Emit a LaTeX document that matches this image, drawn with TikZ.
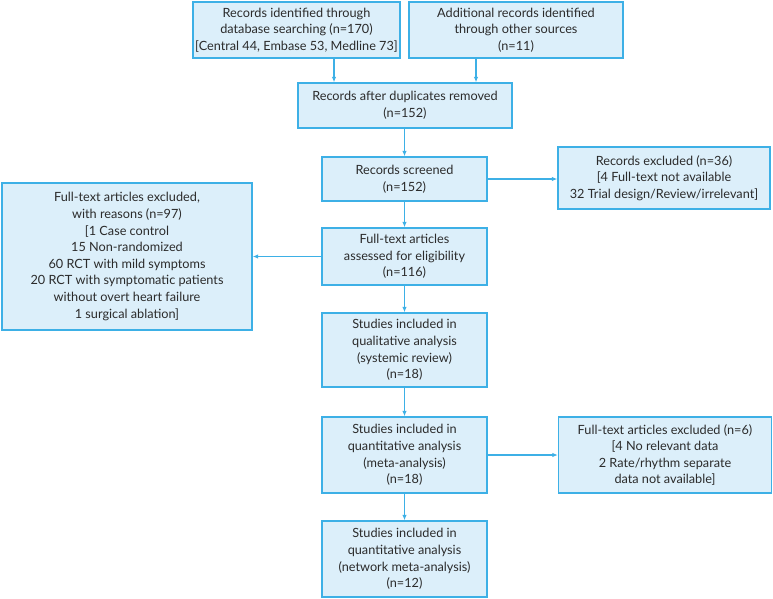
\documentclass[tikz,border=0pt]{standalone}
\usepackage{fontspec}
\setmainfont{Lato}
\usetikzlibrary{arrows.meta}
\definecolor{boxfill}{HTML}{DCEFFA}
\definecolor{boxline}{HTML}{3DB0E6}
\definecolor{txt}{HTML}{2B2B2B}
\begin{document}
\begin{tikzpicture}[x=1pt,y=-1pt,
  box/.style={draw=boxline,fill=boxfill,line width=1.3pt,align=center,inner sep=0pt,
    minimum width=#1,
    text=txt,font=\fontsize{12.7}{16.6}\selectfont},
  arr/.style={draw=boxline,line width=1.1pt,-{Latex[length=5.5pt,width=4.5pt]}}]
\useasboundingbox (0,0) rectangle (773,598);
\node[box=207pt,minimum height=56pt] (A) at (296.5,30) {Records identified through\\database searching (n=170)\\{[}Central 44, Embase 53, Medline 73]};
\node[box=214pt,minimum height=56pt] (B) at (516,30) {Additional records identified\\through other sources\\(n=11)};
\node[box=214pt,minimum height=45pt] (C) at (405,105.5) {Records after duplicates removed\\(n=152)};
\node[box=165pt,minimum height=44pt] (D) at (404.5,179) {Records screened\\(n=152)};
\node[box=212pt,minimum height=62pt] (E) at (664,178) {Records excluded (n=36)\\{[}4 Full-text not available\\32 Trial design/Review/irrelevant]};
\node[box=250pt,minimum height=147pt] (F) at (127,256.5) {Full-text articles excluded,\\with reasons (n=97)\\{[}1 Case control\\15 Non-randomized\\60 RCT with mild symptoms\\20 RCT with symptomatic patients\\without overt heart failure\\1 surgical ablation]};
\node[box=165pt,minimum height=57pt] (G) at (404.5,256.5) {Full-text articles\\assessed for eligibility\\(n=116)};
\node[box=165pt,minimum height=74pt] (H) at (404.5,350) {Studies included in\\qualitative analysis\\(systemic review)\\(n=18)};
\node[box=165pt,minimum height=76pt] (I) at (404.5,455) {Studies included in\\quantitative analysis\\(meta-analysis)\\(n=18)};
\node[box=213pt,minimum height=76pt] (J) at (665,455) {Full-text articles excluded (n=6)\\{[}4 No relevant data\\2 Rate/rhythm separate\\data not available]};
\node[box=165pt,minimum height=76pt] (K) at (404.5,559) {Studies included in\\quantitative analysis\\(network meta-analysis)\\(n=12)};
\draw[arr] ([xshift=37.5pt]A.south) -- ([xshift=-71pt]C.north);
\draw[arr] ([xshift=-40pt]B.south) -- ([xshift=71pt]C.north);
\draw[arr] (C.south -| D.north) -- (D.north);
\draw[arr] (D.east) -- (D.east -| E.west);
\draw[arr] (D.south) -- (G.north);
\draw[arr] (G.west) -- (G.west -| F.east);
\draw[arr] (G.south) -- (H.north);
\draw[arr] (H.south) -- (I.north);
\draw[arr] (I.east) -- (J.west);
\draw[arr] (I.south) -- (K.north);
\end{tikzpicture}
\end{document}
